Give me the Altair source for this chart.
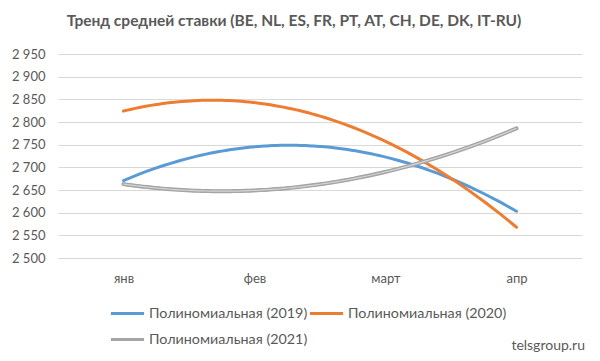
import altair as alt
import pandas as pd

months = ["янв", "фев", "март", "апр"]
month_idx = [0, 1, 2, 3]
series_names = ["Полиномиальная (2019)", "Полиномиальная (2020)", "Полиномиальная (2021)"]
v2019 = [2671, 2745, 2723, 2603]
v2020 = [2824, 2843, 2757, 2568]
v2021 = [2663, 2649, 2690, 2786]
colors = ["#5B9BD5", "#ED7D31", "#A5A5A5"]
y_ticks = [2500, 2550, 2600, 2650, 2700, 2750, 2800, 2850, 2900, 2950]
title_text = "Тренд средней ставки (BE, NL, ES, FR, PT, AT, CH, DE, DK, IT-RU)"
watermark = "telsgroup.ru"

rows = []
for name, vals in zip(series_names, [v2019, v2020, v2021]):
    for i, v in zip(month_idx, vals):
        rows.append({"series": name, "t": i, "value": v})
df = pd.DataFrame(rows)

FONT = "Lato"
TXT = "#595959"
month_expr = "[" + ",".join("'%s'" % m for m in months) + "][datum.value]"

base = alt.Chart(df)

x_enc = alt.X(
    "t:Q",
    scale=alt.Scale(domain=[-0.5, 3.5], nice=False, zero=False),
    axis=alt.Axis(
        values=month_idx, labelExpr=month_expr, title=None, grid=False,
        ticks=False, domain=False, labelPadding=14, labelFontSize=13,
        labelColor=TXT, labelFont=FONT, labelOverlap=False,
    ),
)
y_enc = alt.Y(
    "value:Q",
    scale=alt.Scale(domain=[2500, 2950], nice=False, zero=False),
    axis=alt.Axis(
        values=y_ticks, labelExpr="replace(format(datum.value, ','), ',', ' ')",
        title=None, grid=True, gridColor="#D9D9D9", gridWidth=1, ticks=False,
        domain=False, labelPadding=13, labelFontSize=13, labelColor=TXT,
        labelFont=FONT, labelOverlap=False, tickCount=10,
    ),
)

lines = base.transform_regression(
    "t", "value", groupby=["series"], method="poly", order=2
).mark_line(strokeWidth=3, strokeCap="round").encode(
    x=x_enc,
    y=y_enc,
    color=alt.Color(
        "series:N",
        scale=alt.Scale(domain=series_names, range=colors),
        legend=alt.Legend(
            title=None, orient="none", legendX=51, legendY=241, columns=2,
            symbolType="stroke", symbolStrokeWidth=3, symbolSize=1100,
            labelFontSize=14.3, labelColor=TXT, labelFont=FONT, labelOffset=3,
            columnPadding=-18, rowPadding=-2, direction="horizontal",
            labelLimit=300,
        ),
    ),
    detail="series:N",
)

gray_outer = base.transform_filter(
    alt.datum.series == series_names[2]
).transform_regression(
    "t", "value", method="poly", order=2
).mark_line(strokeWidth=4, color="#A5A5A5", strokeCap="round").encode(x=x_enc, y=y_enc)

gray_inner = base.transform_filter(
    alt.datum.series == series_names[2]
).transform_regression(
    "t", "value", method="poly", order=2
).mark_line(strokeWidth=1.2, color="#D4D4D4").encode(x=x_enc, y=y_enc)

wm = alt.Chart(pd.DataFrame({"label": [watermark]})).mark_text(
    align="right", baseline="middle", fontSize=14, font=FONT, color=TXT
).encode(text="label:N", x=alt.value(527), y=alt.value(292))

chart = alt.layer(lines, gray_outer, gray_inner, wm).properties(
    width=524,
    height=204,
    padding={"left": 50, "top": 46, "right": 10, "bottom": 95},
    autosize=alt.AutoSizeParams(type="none"),
    title=alt.TitleParams(
        text=title_text, fontSize=15.5, fontWeight="bold", font=FONT,
        color=TXT, anchor="middle", offset=19, dx=-26,
    ),
).configure_view(stroke=None)

chart.save("out.html", embed_options={"renderer": "svg", "actions": False})
